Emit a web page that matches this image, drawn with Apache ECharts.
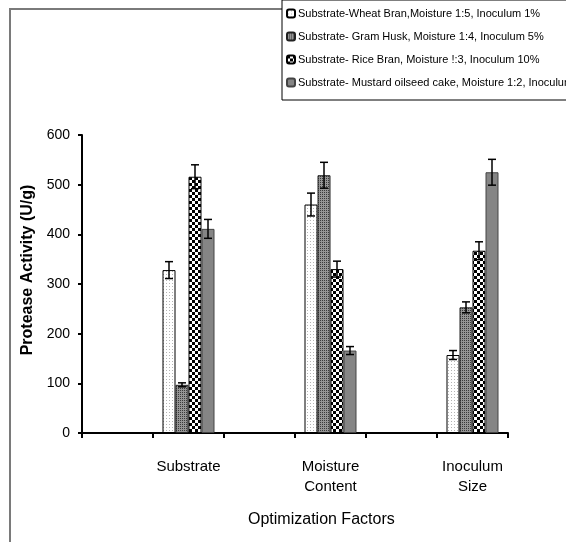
<!DOCTYPE html>
<html>
<head>
<meta charset="utf-8">
<script src="https://cdn.jsdelivr.net/npm/echarts@6/dist/echarts.min.js"></script>
<style>
  html, body { margin: 0; padding: 0; background: #fff; }
  #main { width: 566px; height: 542px; }
</style>
</head>
<body>
<div id="main"></div>
<script>
// data
var categories = ['', 'Substrate', '', 'Moisture\nContent', '', 'Inoculum\nSize'];
var seriesNames = [
  'Substrate-Wheat Bran,Moisture 1:5, Inoculum 1%',
  'Substrate- Gram Husk, Moisture 1:4, Inoculum 5%',
  'Substrate- Rice Bran, Moisture !:3, Inoculum 10%',
  'Substrate- Mustard oilseed cake, Moisture 1:2, Inoculum 20%'
];
var wheatBran = [null, 328, null, 460, null, 157];
var gramHusk = [null, 97, null, 519, null, 253];
var riceBran = [null, 516, null, 330, null, 367];
var mustardCake = [null, 411, null, 166, null, 525];
var wheatErr = [null, 17, null, 23, null, 9];
var gramErr = [null, 4, null, 26, null, 11];
var riceErr = [null, 24, null, 16, null, 18];
var mustardErr = [null, 19, null, 8, null, 26];
var yTicks = [0, 100, 200, 300, 400, 500, 600];

var FONT = "'Liberation Sans', Arial, sans-serif";
var BAR_W = 13;

function makePattern(size, draw) {
  var c = document.createElement('canvas');
  c.width = size; c.height = size;
  var ctx = c.getContext('2d');
  draw(ctx);
  return { image: c, repeat: 'repeat' };
}

var patWheat = makePattern(3, function (ctx) {
  ctx.fillStyle = '#fff'; ctx.fillRect(0, 0, 3, 3);
  ctx.fillStyle = '#b5b5b5'; ctx.fillRect(1, 1, 1, 1);
});
var patGram = makePattern(2, function (ctx) {
  ctx.fillStyle = '#959595'; ctx.fillRect(0, 0, 2, 2);
  ctx.fillStyle = '#3a3a3a'; ctx.fillRect(0, 0, 1, 1);
});
var patRice = makePattern(6, function (ctx) {
  ctx.fillStyle = '#fff'; ctx.fillRect(0, 0, 6, 6);
  ctx.fillStyle = '#000'; ctx.fillRect(0, 0, 3, 3); ctx.fillRect(3, 3, 3, 3);
});

var values = [wheatBran, gramHusk, riceBran, mustardCake];
var errors = [wheatErr, gramErr, riceErr, mustardErr];
var fills = [patWheat, patGram, patRice, '#858585'];
var borders = ['#000', '#222', '#000', '#444'];

var chartDom = document.getElementById('main');
var myChart = echarts.init(chartDom);

var series = [];
values.forEach(function (vals, i) {
  series.push({
    name: seriesNames[i],
    type: 'bar',
    data: vals,
    barWidth: BAR_W,
    barGap: '0%',
    itemStyle: { color: fills[i], borderColor: borders[i], borderWidth: 1 },
    animation: false
  });
});
values.forEach(function (vals, i) {
  var errData = [];
  vals.forEach(function (v, k) {
    if (v != null) errData.push([k, v, errors[i][k]]);
  });
  series.push({
    type: 'custom',
    data: errData,
    z: 5,
    animation: false,
    renderItem: function (params, api) {
      var idx = api.value(0), mean = api.value(1), err = api.value(2);
      var hi = api.coord([idx, mean + err]);
      var lo = api.coord([idx, mean - err]);
      var x = hi[0] + (i - 1.5) * BAR_W;
      var cap = 4;
      var st = { stroke: '#000', lineWidth: 1.5 };
      return {
        type: 'group',
        children: [
          { type: 'line', shape: { x1: x, y1: hi[1], x2: x, y2: lo[1] }, style: st },
          { type: 'line', shape: { x1: x - cap, y1: hi[1], x2: x + cap, y2: hi[1] }, style: st },
          { type: 'line', shape: { x1: x - cap, y1: lo[1], x2: x + cap, y2: lo[1] }, style: st }
        ]
      };
    }
  });
});

var option = {
  backgroundColor: '#fff',
  animation: false,
  graphic: [
    {
      type: 'rect',
      shape: { x: 10, y: 9, width: 600, height: 600 },
      style: { fill: 'none', stroke: '#7a7a7a', lineWidth: 2 },
      z: 0
    }
  ],
  title: {
    text: 'Optimization Factors',
    left: 243,
    top: 507,
    textStyle: { fontFamily: FONT, fontSize: 16, fontWeight: 'normal', color: '#000' }
  },
  legend: {
    data: seriesNames,
    orient: 'vertical',
    left: 282,
    top: 0,
    padding: [8, 60, 12, 4],
    itemWidth: 8,
    itemHeight: 8,
    itemGap: 12,
    backgroundColor: '#fff',
    borderColor: '#000',
    borderWidth: 1,
    z: 10,
    textStyle: { fontFamily: FONT, fontSize: 11, fontWeight: 'normal', color: '#000', padding: [0, 0, 0, -2] }
  },
  grid: { left: 82, right: 58, top: 135, bottom: 109, outerBoundsMode: 'none' },
  xAxis: {
    type: 'category',
    data: categories,
    axisLine: { lineStyle: { color: '#000', width: 2 } },
    axisTick: { show: true, length: 5, lineStyle: { color: '#000', width: 2 } },
    axisLabel: {
      interval: 0, margin: 24, color: '#000',
      fontFamily: FONT, fontSize: 15, lineHeight: 20
    }
  },
  yAxis: {
    type: 'value',
    min: 0,
    max: 600,
    interval: 100,
    name: 'Protease Activity (U/g)',
    nameLocation: 'middle',
    nameGap: 45,
    nameTextStyle: { fontFamily: FONT, fontSize: 16, fontWeight: 'bold', color: '#000', padding: [0, 0, 0, 28] },
    splitLine: { show: false },
    axisLine: { show: true, lineStyle: { color: '#000', width: 2 } },
    axisTick: { show: true, length: 4, lineStyle: { color: '#000', width: 2 } },
    axisLabel: {
      margin: 12, color: '#000', fontFamily: FONT, fontSize: 14,
      formatter: function (v) { return yTicks.indexOf(v) >= 0 ? String(v) : ''; }
    }
  },
  series: series
};

myChart.setOption(option);
window.addEventListener('resize', function () { myChart.resize(); });
</script>
</body>
</html>
